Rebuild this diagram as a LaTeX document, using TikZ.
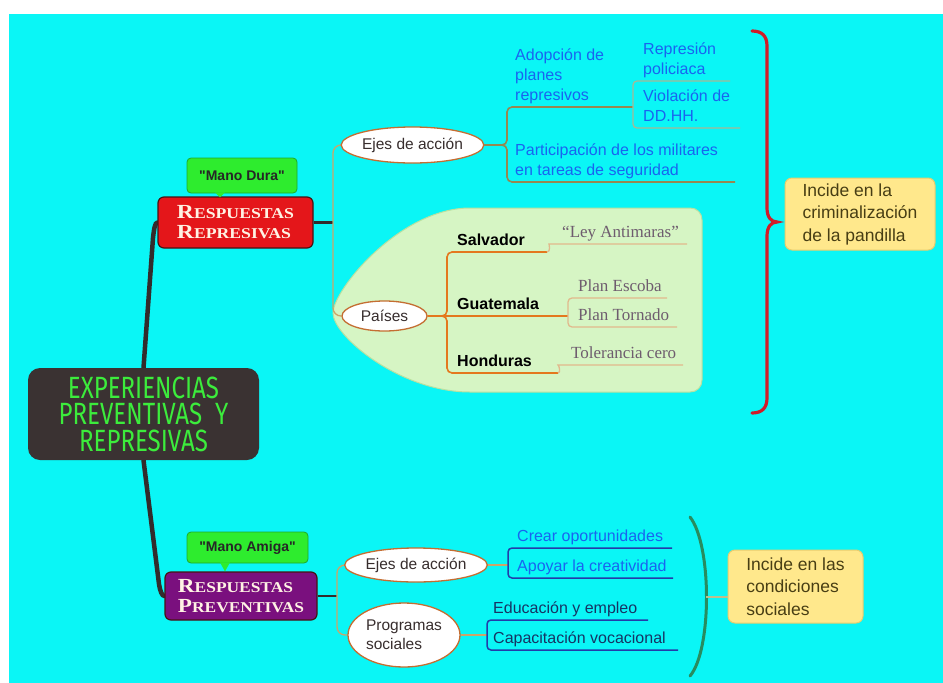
\documentclass[tikz,border=0pt]{standalone}
\usepackage{fontspec}
\usepackage{graphicx}
\usetikzlibrary{shapes.geometric}
\newfontfamily\sansf{Liberation Sans}
\newfontfamily\seriff{Liberation Serif}
\newfontfamily\expf{Fira Sans}
\pgfdeclarelayer{bgA}
\pgfdeclarelayer{bgB}
\pgfsetlayers{bgA,bgB,main}
\definecolor{bgcyan}{RGB}{10,246,246}
\definecolor{darkbox}{RGB}{58,50,50}
\definecolor{exgreen}{RGB}{60,236,60}
\definecolor{redbox}{RGB}{228,22,26}
\definecolor{purplebox}{RGB}{122,16,126}
\definecolor{callgreen}{RGB}{46,236,46}
\definecolor{callborder}{RGB}{30,170,40}
\definecolor{boxtext}{RGB}{255,242,228}
\definecolor{trunkc}{RGB}{50,44,44}
\definecolor{tanc}{RGB}{205,165,105}
\definecolor{olivec}{RGB}{150,135,80}
\definecolor{subc}{RGB}{165,185,150}
\definecolor{orangec}{RGB}{228,120,30}
\definecolor{paleor}{RGB}{225,185,140}
\definecolor{blueT}{RGB}{25,100,240}
\definecolor{blueL}{RGB}{35,60,170}
\definecolor{navyT}{RGB}{22,52,100}
\definecolor{serifT}{RGB}{110,92,110}
\definecolor{ellborder}{RGB}{196,110,50}
\definecolor{elltext}{RGB}{55,45,45}
\definecolor{paisfill}{RGB}{214,245,196}
\definecolor{paisdraw}{RGB}{185,225,160}
\definecolor{yfill}{RGB}{255,232,140}
\definecolor{ydraw}{RGB}{232,205,110}
\definecolor{ytext}{RGB}{72,62,20}
\definecolor{yconn}{RGB}{190,190,140}
\definecolor{redbrace}{RGB}{208,28,40}
\definecolor{greenbrace}{RGB}{40,140,95}
\definecolor{boxdraw}{RGB}{70,20,20}
\newcommand{\capR}[1]{{\fontsize{20}{20}\selectfont #1}}
\tikzset{
  mainbox/.style={rounded corners=6pt, draw=boxdraw, line width=1.2pt,
    inner sep=0pt, align=left, text=boxtext, font=\seriff\bfseries\fontsize{15}{20}\selectfont},
  callbox/.style={rounded corners=4pt, fill=callgreen, draw=callborder, line width=0.8pt,
    inner sep=0pt, font=\sansf\bfseries\fontsize{14}{16}\selectfont, text=black!85},
  ell/.style={ellipse, draw=ellborder, line width=1.3pt, fill=white, inner sep=0pt,
    font=\sansf\fontsize{15.5}{19}\selectfont, text=elltext, align=left},
  leafU/.style={anchor=south west, inner xsep=8pt, inner ysep=0pt, align=left,
    font=\sansf\fontsize{16}{20}\selectfont, text=blueT, execute at end node=\strut},
  leafP/.style={leafU, inner xsep=10pt, text=black, font=\sansf\bfseries\fontsize{16}{20}\selectfont},
  leafS/.style={leafU, inner xsep=9pt, text=serifT, font=\seriff\fontsize{17}{20}\selectfont},
  leafB/.style={leafU, inner xsep=9pt},
  leafN/.style={leafU, inner xsep=6pt, text=navyT},
  ybox/.style={rounded corners=7pt, fill=yfill, draw=ydraw, line width=1pt, text=ytext,
    font=\sansf\fontsize{17.5}{22.5}\selectfont, align=left, inner sep=0pt},
  trunkline/.style={trunkc, line width=4.5pt, line cap=round},
  stub/.style={trunkc, line width=2.5pt},
  tanl/.style={tanc, line width=1.3pt, rounded corners=8pt},
  olivel/.style={olivec, line width=1.6pt, rounded corners=5pt},
  subl/.style={subc, line width=1.3pt, rounded corners=4pt},
  orl/.style={orangec, line width=1.6pt, rounded corners=5pt},
  porl/.style={paleor, line width=1.3pt, rounded corners=4pt},
  bll/.style={blueL, line width=1.5pt, rounded corners=4pt}
}
\begin{document}
\begin{tikzpicture}[x=1pt,y=-1pt]
\useasboundingbox (0,0) rectangle (943,683);
\begin{pgfonlayer}{bgA}
\fill[white] (0,0) rectangle (943,683);
\fill[bgcyan] (9,14) rectangle (943,683);
\filldraw[fill=paisfill, draw=paisdraw, line width=1pt]
  (333,313) .. controls (333,290) and (400,208) .. (470,208) -- (690,208)
  .. controls (697,208) and (702,213) .. (702,220) -- (702,380)
  .. controls (702,387) and (697,392) .. (690,392) -- (470,392)
  .. controls (400,392) and (333,336) .. (333,313) -- cycle;
\end{pgfonlayer}

% central node
\node[rounded corners=12pt, fill=darkbox, minimum width=231pt, minimum height=92pt, inner sep=0pt,
  text=exgreen, align=center, font=\expf\fontsize{29}{26.5}\selectfont] (exp) at (143.5,414)
  {\scalebox{0.83}[1.06]{EXPERIENCIAS}\\\scalebox{0.83}[1.06]{PREVENTIVAS\ \ Y}\\\scalebox{0.83}[1.06]{REPRESIVAS}};

% main branches
\node[mainbox, fill=redbox, minimum width=155pt, minimum height=51pt] (rep) at (235.5,222.5)
  {\scalebox{1.18}[1]{\capR{R}ESPUESTAS}\\\scalebox{1.18}[1]{\capR{R}EPRESIVAS}};
\node[mainbox, fill=purplebox, minimum width=152pt, minimum height=48pt] (prev) at (241,596)
  {\scalebox{1.16}[1]{\capR{R}ESPUESTAS}\\\scalebox{1.16}[1]{\capR{P}REVENTIVAS}};

\node[callbox, minimum width=110pt, minimum height=35pt] (md) at (242,175.5) {"Mano Dura"};
\fill[callgreen] ([xshift=-27pt,yshift=1pt]md.south) -- ([xshift=-17pt,yshift=1pt]md.south) -- ([xshift=-22pt,yshift=-4pt]md.south) -- cycle;
\node[callbox, minimum width=121pt, minimum height=31pt] (ma) at (247.5,547.5) {"Mano Amiga"};
\fill[callgreen] ([xshift=-27.5pt,yshift=1pt]ma.south) -- ([xshift=-17.5pt,yshift=1pt]ma.south) -- ([xshift=-22.5pt,yshift=-8pt]ma.south) -- cycle;

% ellipses
\node[ell, minimum width=141pt, minimum height=36pt] (ejes1) at (412.5,145) {Ejes de acción};
\node[ell, minimum width=85pt, minimum height=30pt] (paises) at (384.5,316) {Países};
\node[ell, minimum width=142pt, minimum height=34pt] (ejes2) at (416,565) {Ejes de acción};
\node[ell, minimum width=112pt, minimum height=64pt] (prog) at (404,635) {Programas\\sociales};

% upper leaves
\node[leafU] (adop) at (507,107) {Adopción de\\planes\\represivos};
\node[leafU, inner xsep=10pt] (repr) at (633,81) {Represión\\policiaca};
\node[leafU, inner xsep=10pt] (viol) at (633,128) {Violación de\\DD.HH.};
\node[leafU] (part) at (507,182) {Participación de los militares\\en tareas de seguridad};

% countries
\node[leafP] (salv) at (447,252) {Salvador};
\node[leafP] (guat) at (447,316) {Guatemala};
\node[leafP] (hond) at (447,373) {Honduras};
\node[leafS] (ley) at (553,244) {“Ley Antimaras”};
\node[leafS, inner xsep=10pt] (escoba) at (568,298) {Plan Escoba};
\node[leafS, inner xsep=10pt] (tornado) at (568,327) {Plan Tornado};
\node[leafS] (tol) at (562,365) {Tolerancia cero};

% lower leaves
\node[leafB] (crear) at (508,548) {Crear oportunidades};
\node[leafB] (apoyar) at (508,578) {Apoyar la creatividad};
\node[leafN] (edu) at (487,620) {Educación y empleo};
\node[leafN] (cap) at (487,650) {Capacitación vocacional};

% notes
\node[ybox, minimum width=150pt, minimum height=72pt] (inc1) at (860,214) {Incide en la\\criminalización\\de la pandilla};
\node[ybox, minimum width=135pt, minimum height=73pt] (inc2) at (795.5,586.5) {Incide en las\\condiciones\\sociales};

\coordinate (rj) at (333,222.5);
\coordinate (pj) at (337,596);
\coordinate (gb) at (706,597);

\begin{pgfonlayer}{bgB}
\draw[trunkline] (exp.north) -- (153,238) .. controls (154,229) and (155,222.5) .. (rep.west);
\draw[trunkline] (exp.south) -- (159,584) .. controls (160,591) and (162,596) .. (prev.west);
\draw[stub] (rep.east) -- (rj);
\draw[tanl] (rj) |- (ejes1.west);
\draw[tanl] (rj) |- (paises.west);
\draw[stub] (prev.east) -- (pj);
\draw[tanl] (pj) |- (ejes2.west);
\draw[tanl] (pj) |- (prog.west);
% upper ejes
\draw[olivel] (ejes1.east) -| (adop.south west) -- ++(126,0);
\draw[olivel] (ejes1.east) -| (part.south west) -- ++(228,0);
\draw[subl] ([xshift=126pt]adop.south west) -- (repr.south west) -- ++(97,0);
\draw[subl] ([xshift=126pt]adop.south west) -- (viol.south west) -- ++(107,0);
% countries
\draw[orl] (paises.east) -| (salv.south west) -- ++(100,0);
\draw[orl] (paises.east) -- (guat.south west) -- ++(121,0);
\draw[orl] (paises.east) -| (hond.south west) -- ++(111,0);
\draw[porl] ([xshift=100pt]salv.south west) .. controls +(4,0) and +(-4,0) .. (ley.south west) -- ++(134,0);
\draw[porl] ([xshift=121pt]guat.south west) -- (escoba.south west) -- ++(99,0);
\draw[porl] ([xshift=121pt]guat.south west) -- (tornado.south west) -- ++(109,0);
\draw[porl] ([xshift=111pt]hond.south west) .. controls +(3,0) and +(-3,0) .. (tol.south west) -- ++(121,0);
% lower
\draw[tanl] (ejes2.east) -- (ejes2.east -| crear.south west);
\draw[bll] ([xshift=164pt]crear.south west) -- (crear.south west) -- (apoyar.south west) -- ++(165,0);
\draw[tanl] (prog.east) -- (prog.east -| edu.south west);
\draw[bll] ([xshift=161pt]edu.south west) -- (edu.south west) -- (cap.south west) -- ++(191,0);
% braces
\draw[redbrace, line width=3.2pt, line cap=round] (752,31) .. controls (762,31) and (767,36) .. (767,46) -- (767,208)
  .. controls (767,217) and (771,222) .. (777,222) .. controls (771,222) and (767,227) .. (767,236) -- (767,398)
  .. controls (767,408) and (762,413) .. (752,413);
\draw[greenbrace, line width=3pt, line cap=round] (690,517) .. controls (712,545) and (712,650) .. (690,676);
\draw[yconn, line width=1.2pt] (gb) -- (gb -| inc2.west);
\end{pgfonlayer}
\end{tikzpicture}
\end{document}
